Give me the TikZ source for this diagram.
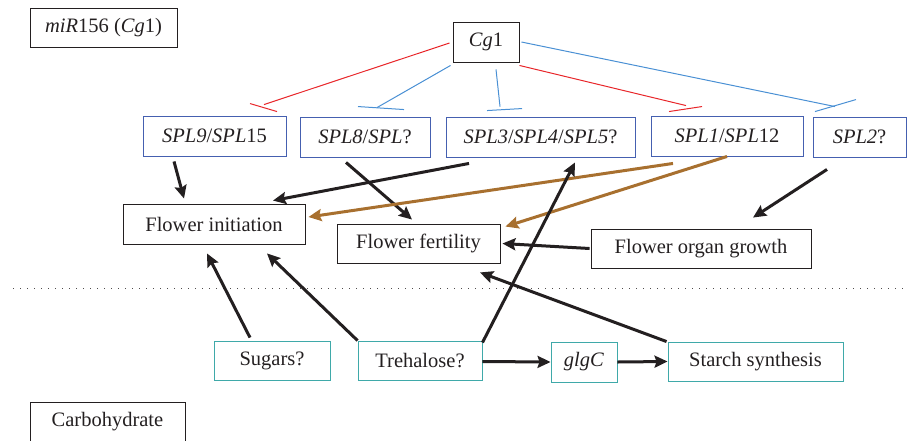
\documentclass[tikz,border=0pt]{standalone}
\usepackage{fontspec}
\setmainfont{Liberation Serif}
\usetikzlibrary{arrows.meta,calc}
\definecolor{ink}{HTML}{231F20}
\definecolor{boxblue}{HTML}{4560B0}
\definecolor{boxteal}{HTML}{3FA9A9}
\definecolor{inred}{HTML}{E8262A}
\definecolor{inblue}{HTML}{4A90D4}
\definecolor{brownarr}{HTML}{A8702F}
\tikzset{
  base/.style={draw, line width=0.9pt, inner sep=0pt, text=ink, font=\fontsize{20.5}{24}\selectfont},
  blackbox/.style={base, draw=ink},
  bluebox/.style={base, draw=boxblue},
  tealbox/.style={base, draw=boxteal},
  inh/.style={line width=1pt},
  act/.style={draw=ink, line width=3pt, -{Stealth[length=13pt,width=12pt,inset=2pt]}},
  bract/.style={draw=brownarr, line width=3pt, -{Stealth[length=13pt,width=12pt,inset=2pt]}},
}
\begin{document}
\begin{tikzpicture}[x=1pt,y=-1pt]
\useasboundingbox (0,0) rectangle (907,440);
% nodes
\node[blackbox, minimum width=147pt, minimum height=39pt] (mir) at (103.5,27.5) {\textit{miR}156 (\textit{Cg}1)};
\node[blackbox, minimum width=66pt, minimum height=40pt] (cg1) at (486,42) {\textit{Cg}1};
\node[bluebox, minimum width=143pt, minimum height=40pt] (spl9) at (214.5,136) {\textit{SPL9}/\textit{SPL}15};
\node[bluebox, minimum width=130pt, minimum height=40pt] (spl8) at (365,137) {\textit{SPL8}/\textit{SPL}?};
\node[bluebox, minimum width=189pt, minimum height=40pt] (spl3) at (540.5,137) {\textit{SPL3}/\textit{SPL4}/\textit{SPL5}?};
\node[bluebox, minimum width=152pt, minimum height=40pt] (spl1) at (727,136) {\textit{SPL1}/\textit{SPL}12};
\node[bluebox, minimum width=93pt, minimum height=40pt] (spl2) at (859.5,137) {\textit{SPL2}?};
\node[blackbox, minimum width=182pt, minimum height=40pt] (fi) at (214,224) {Flower initiation};
\node[blackbox, minimum width=163pt, minimum height=39pt] (ff) at (418.5,243.5) {Flower fertility};
\node[blackbox, minimum width=220pt, minimum height=39pt] (fog) at (701,248.5) {Flower organ growth};
\node[tealbox, minimum width=116pt, minimum height=39pt] (sug) at (272,360.5) {Sugars?};
\node[tealbox, minimum width=124pt, minimum height=39pt] (tre) at (420,360.5) {Trehalose?};
\node[tealbox, minimum width=66pt, minimum height=40pt] (glg) at (584,362) {\textit{glgC}};
\node[tealbox, minimum width=175pt, minimum height=39pt] (sta) at (755.5,361.5) {Starch synthesis};
\node[blackbox, minimum width=155pt, minimum height=40pt] (carb) at (107.5,422) {Carbohydrate};
% dotted separator
\coordinate (sepL) at (13,288);
\coordinate (sepR) at (907,288);
\draw[ink!80, line width=1pt, dash pattern=on 1pt off 6pt] (sepL) -- (sepR);
% inhibition from Cg1
\draw[inh, inred] ($(cg1.west)+(-3,1)$) -- ($(spl9.north)+(49.5,-11)$);
\draw[inh, inred] ($(spl9.north)+(35.5,-12)$) -- ($(spl9.north)+(62.5,-4)$);
\draw[inh, inblue] ($(cg1.south west)+(-2,3)$) -- ($(spl8.north)+(12,-9)$);
\draw[inh, inblue] ($(spl8.north)+(-7,-10)$) -- ($(spl8.north)+(39,-7)$);
\draw[inh, inblue] ($(cg1.south)+(10,7)$) -- ($(spl3.north)+(-40.5,-10)$);
\draw[inh, inblue] ($(spl3.north)+(-53.5,-6)$) -- ($(spl3.north)+(-18.5,-8)$);
\draw[inh, inred] ($(cg1.south east)+(0,3)$) -- ($(spl1.north)+(-41,-10)$);
\draw[inh, inred] ($(spl1.north)+(-58,-4)$) -- ($(spl1.north)+(-25,-9)$);
\draw[inh, inblue] ($(cg1.east)+(2,0)$) -- ($(spl2.north)+(-24.5,-10)$);
\draw[inh, inblue] ($(spl2.north)+(-44.5,-5)$) -- ($(spl2.north)+(-3.5,-17)$);
% activation arrows
\draw[act] ($(spl9.south)+(-40.5,5)$) -- ($(fi.north)+(-30,-5)$);
\draw[act] ($(spl3.south)+(-71.5,6)$) -- ($(fi.north)+(59,-3)$);
\draw[act] ($(spl8.south)+(-19,5)$) -- ($(ff.north)+(-6.5,-4)$);
\draw[act] ($(spl2.south)+(-32.5,12)$) -- ($(fog.north)+(52,-11)$);
\draw[act] ($(fog.west)+(-1,0)$) -- ($(ff.east)+(2,0)$);
\draw[bract] ($(spl1.south)+(-54,7)$) -- ($(fi.east)+(3,-7)$);
\draw[bract] ($(spl1.south)+(0,0)$) -- ($(ff.north east)+(5,3)$);
\draw[act] ($(sug.north)+(-22,-3)$) -- ($(fi.south)+(-7,9)$);
\draw[act] (tre.north west) -- ($(fi.south)+(53,9)$);
\draw[act] ($(tre.north east)+(0,2)$) -- ($(spl3.south)+(34.5,5)$);
\draw[act] ($(sta.north west)+(-1,0)$) -- ($(ff.south)+(61.5,9)$);
\draw[act] ($(tre.east)+(0,1)$) -- (glg.west);
\draw[act] (glg.east) -- (sta.west);
\end{tikzpicture}
\end{document}
